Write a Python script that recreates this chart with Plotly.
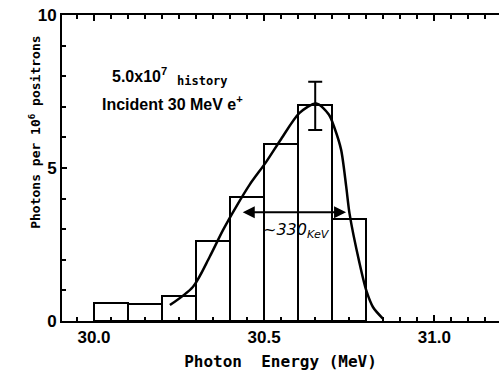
import plotly.graph_objects as go

# ---- data ----
bin_centers = [30.05, 30.15, 30.25, 30.35, 30.45, 30.55, 30.65, 30.75]
bin_counts = [0.60, 0.56, 0.82, 2.61, 4.06, 5.77, 7.06, 3.32]
bin_width = 0.1

err_x = [30.65]
err_y = [7.03]
err_size = [0.79]

fit_x = [30.223, 30.291, 30.34, 30.379, 30.418, 30.457, 30.506, 30.55, 30.604,
         30.653, 30.69, 30.707, 30.726, 30.741, 30.751, 30.78, 30.8, 30.82, 30.848]
fit_y = [0.52, 1.12, 2.10, 2.97, 3.74, 4.45, 5.2, 5.95, 6.8,
         7.11, 6.75, 6.3, 5.6, 4.4, 3.5, 1.9, 1.0, 0.45, 0.09]

fwhm_left, fwhm_right, fwhm_level = 30.437, 30.745, 3.55

x_tickvals = [30.0, 30.5, 31.0]
x_ticktext = ["30.0", "30.5", "31.0"]
y_tickvals = [0, 5, 10]
y_ticktext = ["0", "5", "10"]

SANS = "Liberation Sans, Arial, sans-serif"
MONO = "DejaVu Sans Mono, monospace"

fig = go.Figure()

fig.add_trace(go.Bar(
    x=bin_centers, y=bin_counts, width=bin_width,
    marker=dict(color="rgba(0,0,0,0)", line=dict(color="black", width=2)),
    showlegend=False, hoverinfo="skip"))

fig.add_trace(go.Scatter(
    x=fit_x, y=fit_y, mode="lines",
    line=dict(color="black", width=2.5, shape="spline", smoothing=0.8),
    showlegend=False))

fig.add_trace(go.Scatter(
    x=err_x, y=err_y, mode="markers",
    marker=dict(size=1, color="black"),
    error_y=dict(type="data", array=err_size, color="black", thickness=2, width=7),
    showlegend=False))

fig.update_layout(
    width=499, height=375,
    margin=dict(l=62, r=0, t=15, b=54, autoexpand=False),
    paper_bgcolor="white", plot_bgcolor="white",
    bargap=0,
    xaxis=dict(
        range=[29.906, 31.19], showgrid=False, zeroline=False, automargin=False,
        showline=True, linecolor="black", linewidth=2, mirror="ticks",
        tickvals=x_tickvals, ticktext=x_ticktext,
        ticks="inside", ticklen=6, tickwidth=2, tickcolor="black",
        minor=dict(dtick=0.05, tick0=30.0, ticks="inside", ticklen=4,
                   tickwidth=2, tickcolor="black", showgrid=False),
        tickfont=dict(family=SANS, size=17, color="black", weight="bold"),
        title=dict(text="Photon  Energy (MeV)", standoff=9,
                   font=dict(family=MONO, size=16, color="black", weight="bold")),
    ),
    yaxis=dict(
        range=[0, 10], showgrid=False, zeroline=False, automargin=False,
        showline=True, linecolor="black", linewidth=2,
        tickvals=y_tickvals, ticktext=y_ticktext,
        ticks="inside", ticklen=5, tickwidth=2, tickcolor="black",
        minor=dict(dtick=1, ticks="inside", ticklen=4, tickwidth=2,
                   tickcolor="black", showgrid=False),
        tickfont=dict(family=SANS, size=17, color="black", weight="bold"),
    ),
)

fig.add_annotation(
    text="Photons per 10<sup>6</sup> positrons", textangle=-90,
    xref="paper", yref="paper", x=-0.062, y=0.618,
    xanchor="center", yanchor="middle", showarrow=False,
    font=dict(family=MONO, size=13, color="black", weight="bold"))

fig.add_annotation(
    text="5.0x10<sup>7</sup>", xref="x", yref="y", x=30.047, y=8.04,
    xanchor="left", showarrow=False,
    font=dict(family=SANS, size=16, color="black", weight="bold"))
fig.add_annotation(
    text="history", xref="x", yref="y", x=30.238, y=7.84,
    xanchor="left", showarrow=False,
    font=dict(family=MONO, size=12, color="black", weight="bold"))
fig.add_annotation(
    text="Incident 30 MeV e<sup>+</sup>", xref="x", yref="y", x=30.018, y=7.12,
    xanchor="left", showarrow=False,
    font=dict(family=SANS, size=16, color="black", weight="bold"))

fig.add_annotation(
    x=fwhm_left, y=fwhm_level, ax=fwhm_right, ay=fwhm_level,
    xref="x", yref="y", axref="x", ayref="y", text="",
    showarrow=True, arrowhead=2, startarrowhead=2, arrowside="end+start",
    arrowsize=1.2, arrowwidth=2, arrowcolor="black")
fig.add_annotation(
    text="~330<sub>KeV</sub>", xref="x", yref="y", x=30.595, y=2.95,
    showarrow=False,
    font=dict(family="DejaVu Sans", size=16, color="black", style="italic"))

fig.write_html(
    "out.html",
    config={"displayModeBar": False},
    post_script="document.body.style.margin='0';document.body.style.overflow='hidden';")
